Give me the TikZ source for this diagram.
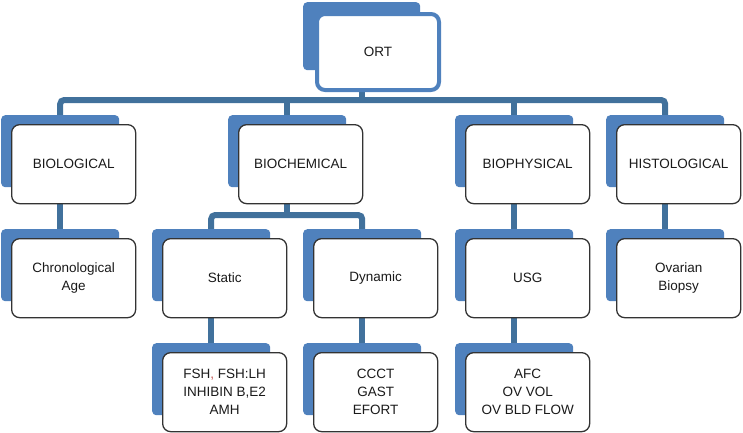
\documentclass[tikz,border=0pt]{standalone}
\usepackage{fontspec}
\setmainfont{Liberation Sans}
\definecolor{backblue}{HTML}{4F81BD}
\definecolor{connblue}{HTML}{41719C}
\definecolor{edgegray}{HTML}{333333}
\definecolor{textgray}{HTML}{1A1A1A}
\definecolor{commared}{HTML}{C0504D}
\pgfdeclarelayer{bg}
\pgfsetlayers{bg,main}
\tikzset{
  backbox/.style={fill=backblue, draw=none, rounded corners=4pt, minimum width=118pt, minimum height=72pt, inner sep=0pt, anchor=north west},
  frontbox/.style={fill=white, draw=edgegray, line width=1.3pt, rounded corners=8pt, minimum width=124pt, minimum height=79pt, inner sep=2pt, anchor=north west, align=center, text=textgray, font=\fontsize{13.5}{18}\selectfont},
  rootbox/.style={frontbox, draw=backblue, line width=4pt, minimum width=122pt, minimum height=76pt},
  conn/.style={draw=connblue, line width=6pt, rounded corners=4pt},
}
\newcommand\tierbox[4]{%
  \node[backbox] (b#1) at (#2-10,#3-9) {};
  \node[frontbox] (f#1) at (#2,#3) {#4};}
\begin{document}
\begin{tikzpicture}[x=1pt,y=-1pt]
\useasboundingbox (0,0) rectangle (743,432);
% root
\node[backbox, minimum width=117pt, minimum height=68pt] (bORT) at (303,2) {};
\node[rootbox] (fORT) at (315,12) {ORT};
% level 1
\tierbox{BIOL}{11}{124}{BIOLOGICAL}
\tierbox{BIOC}{238}{124}{BIOCHEMICAL}
\tierbox{BIOP}{465}{124}{BIOPHYSICAL}
\tierbox{HIST}{616}{124}{HISTOLOGICAL}
% level 2
\tierbox{CHRO}{11}{238}{Chronological\\Age}
\tierbox{STAT}{162}{238}{Static}
\tierbox{DYNA}{313}{238}{Dynamic}
\tierbox{USG}{465}{238}{USG}
\tierbox{OVAR}{616}{238}{Ovarian\\Biopsy}
% level 3
\tierbox{FSH}{162}{352}{FSH{\color{commared},} FSH:LH\\INHIBIN B,E2\\AMH}
\tierbox{CCCT}{313}{352}{CCCT\\GAST\\EFORT}
\tierbox{AFC}{465}{352}{AFC\\OV VOL\\OV BLD FLOW}
% connectors
\coordinate (barA) at (0,100);
\coordinate (barB) at (0,215);
\begin{pgfonlayer}{bg}
\draw[conn] (bORT.center |- fORT.south) -- (bORT.center |- barA);
\draw[conn] (bBIOL.north) -- (bBIOL.north |- barA) -- (bHIST.north |- barA) -- (bHIST.north);
\draw[conn] (bBIOC.north) -- (bBIOC.north |- barA);
\draw[conn] (bBIOP.north) -- (bBIOP.north |- barA);
\draw[conn] (bBIOL.center |- fBIOL.south) -- (bCHRO.north);
\draw[conn] (bBIOC.center |- fBIOC.south) -- (bBIOC.center |- barB);
\draw[conn] (bSTAT.north) -- (bSTAT.north |- barB) -- (bDYNA.north |- barB) -- (bDYNA.north);
\draw[conn] (bBIOP.center |- fBIOP.south) -- (bUSG.north);
\draw[conn] (bHIST.center |- fHIST.south) -- (bOVAR.north);
\draw[conn] (bSTAT.center |- fSTAT.south) -- (bFSH.north);
\draw[conn] (bDYNA.center |- fDYNA.south) -- (bCCCT.north);
\draw[conn] (bUSG.center |- fUSG.south) -- (bAFC.north);
\end{pgfonlayer}
\end{tikzpicture}
\end{document}
